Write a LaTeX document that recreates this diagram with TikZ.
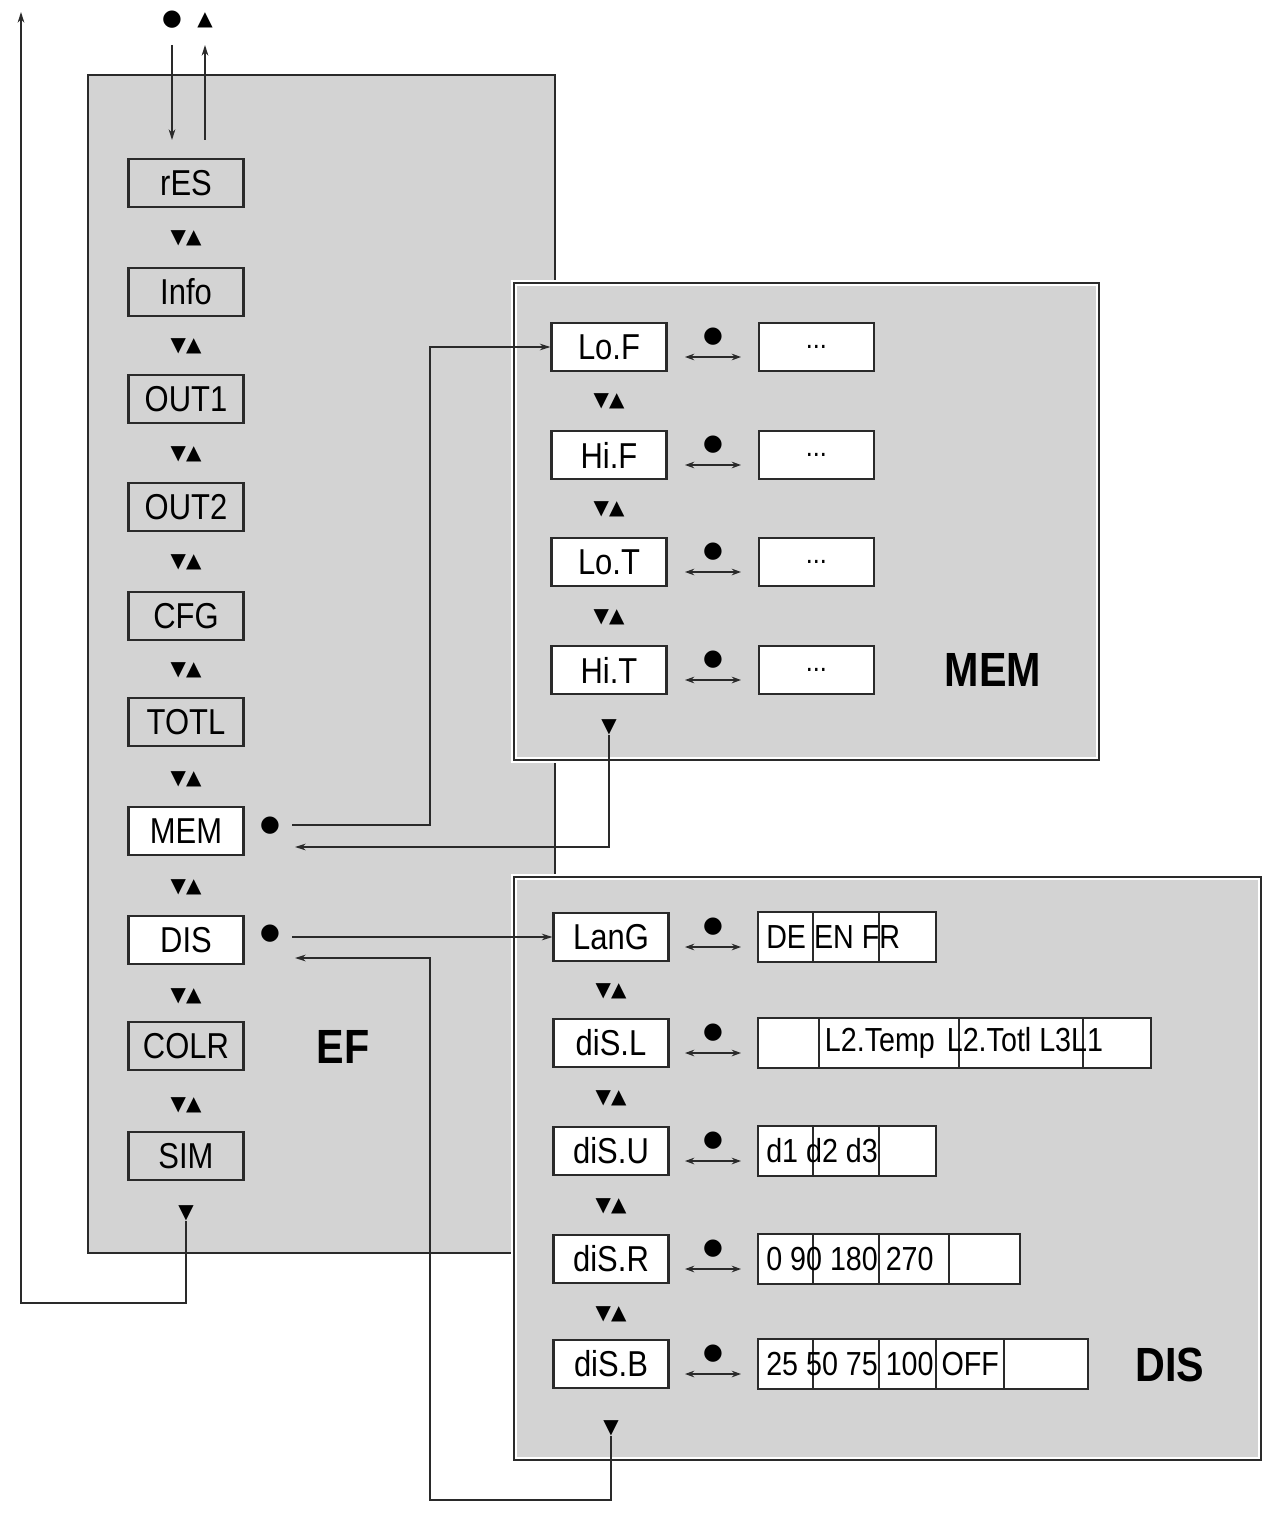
\documentclass[tikz,border=0pt]{standalone}
\usepackage{fontspec}
\setmainfont{Liberation Sans}[FakeStretch=0.86]
\newfontfamily\sym{DejaVu Sans}
\usetikzlibrary{arrows.meta}
\definecolor{pan}{HTML}{D3D3D3}
\definecolor{ln}{HTML}{2A2A2A}
\begin{document}
\begin{tikzpicture}[x=0.75pt,y=-0.75pt,
 box/.style={draw=ln,line width=1.8pt,minimum width=86pt,minimum height=36pt,inner sep=0pt,font=\fontsize{27}{29}\selectfont},
 gbox/.style={box,fill=pan},
 wbox/.style={box,fill=white},
 val/.style={draw=ln,line width=1.5pt,fill=white,anchor=west,minimum height=36pt,inner sep=0pt},
 vt/.style={anchor=west,inner sep=0pt,font=\fontsize{25}{27}\selectfont},
 ud/.style={font=\sym\fontsize{15}{16}\selectfont,inner sep=0pt},
 dot/.style={font=\sym\fontsize{17}{18}\selectfont,inner sep=0pt},
 con/.style={draw=ln,line width=1pt},
 arr/.style={con,-{Stealth[length=8pt,width=5pt]}},
 dbl/.style={con,{Stealth[length=7pt,width=5pt]}-{Stealth[length=7pt,width=5pt]}},
 big/.style={font=\bfseries\fontsize{36}{38}\selectfont,inner sep=0pt}]
\useasboundingbox (0,0) rectangle (1273,1515);
% panels
\draw[fill=pan,draw=ln,line width=1.2pt] (88,75) rectangle (555,1253);
\draw[fill=pan,draw=white,line width=4pt] (514,283) rectangle (1099,760);
\draw[draw=ln,line width=1.2pt] (514,283) rectangle (1099,760);
\draw[fill=pan,draw=white,line width=4pt] (514,877) rectangle (1261,1460);
\draw[draw=ln,line width=1.2pt] (514,877) rectangle (1261,1460);
% EF column
\foreach \n/\t/\y/\s in {res/rES/183/gbox,info/Info/292/gbox,out1/OUT1/399/gbox,out2/OUT2/507/gbox,cfg/CFG/616/gbox,totl/TOTL/722/gbox,mem/MEM/831/wbox,dis/DIS/940/wbox,colr/COLR/1046/gbox,sim/SIM/1156/gbox}
  \node[\s] (\n) at (186,\y) {\t};
\foreach \y in {238,346,454,562,670,779,887,996,1105}
  \node[ud] at (186,\y) {▼▲};
\node[ud] (simd) at (186,1213) {▼};
\node[big] (ef) at (343,1047) {EF};
\node[dot] (topdot) at (172,20) {●};
\node[ud] (toptri) at (205,20) {▲};
\coordinate (t1) at (172,45); \coordinate (t2) at (172,140);
\coordinate (t3) at (205,140); \coordinate (t4) at (205,45);
\draw[arr] (t1) -- (t2);
\draw[arr] (t3) -- (t4);
\coordinate (lp) at (21,12);
\draw[arr] (simd.south) |- (21,1303) -- (lp);
\node[dot] (memdot) at (270,826) {●};
\node[dot] (disdot) at (270,934) {●};
% MEM panel
\foreach \n/\t/\y in {lof/Lo.F/347,hif/Hi.F/455,lot/Lo.T/562,hit/Hi.T/670}{
  \node[wbox] (\n) at (609,\y) {\t};
  \node[dot] at (713,\y-10) {●};
  \draw[dbl] (685,\y+10) -- (741,\y+10);
  \node[val,minimum width=86pt] (\n v) at (758,\y) {\fontsize{22}{24}\selectfont ...};
}
\foreach \y in {401,509,617} \node[ud] at (609,\y) {▼▲};
\node[ud] (memd) at (609,727) {▼};
\node[big] at (993,670) {MEM};
% DIS panel
\foreach \n/\t/\y in {lang/LanG/937,disl/diS.L/1043,disu/diS.U/1151,disr/diS.R/1259,disb/diS.B/1364}{
  \node[wbox] (\n) at (611,\y) {\t};
  \node[dot] at (713,\y-10) {●};
  \draw[dbl] (685,\y+10) -- (741,\y+10);
}
\foreach \y in {991,1098,1206,1314} \node[ud] at (611,\y) {▼▲};
\node[ud] (disd) at (611,1428) {▼};
\node[big] at (1170,1365) {DIS};
\newcommand\valbox[4]{% y, right x, dividers, text
  \draw[draw=ln,line width=1.5pt,fill=white] (758,#1-25) rectangle (#2,#1+25);
  \foreach \d in {#3} \draw[ln,line width=1.2pt] (\d,#1-25) -- (\d,#1+25);
  \node[vt] at (766,#1) {#4};}
\valbox{937}{936}{813,879}{DE EN FR}
\valbox{1043}{1151}{819,959,1083}{\hspace{44pt}L2.Temp\hspace{9pt}L2.Totl L3L1}
\valbox{1151}{936}{813,879}{d1 d2 d3}
\valbox{1259}{1020}{813,879,949}{0 90 180 270}
\valbox{1364}{1088}{813,879,936,1004}{25 50 75 100 OFF}
% connectors
\coordinate (c1) at (292,825);
\draw[arr] (c1) -- (430,825) |- (lof.west);
\coordinate (c2) at (295,847);
\draw[arr] (memd.south) |- (c2);
\coordinate (c3) at (292,937);
\draw[arr] (c3) -- (lang.west);
\coordinate (c4) at (295,958);
\draw[arr] (disd.south) |- (430,1500) |- (c4);
\end{tikzpicture}
\end{document}
